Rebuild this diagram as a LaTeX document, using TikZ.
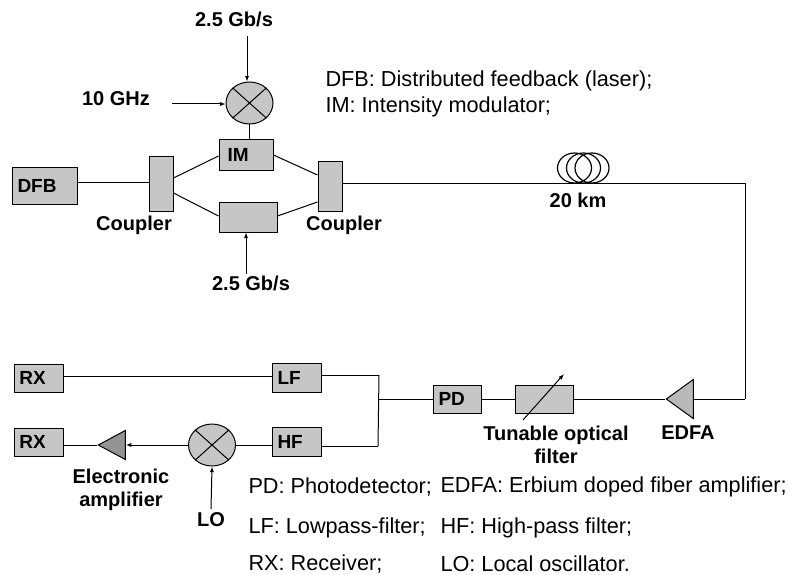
\documentclass[tikz,border=0pt]{standalone}
\usepackage{fontspec}
\setmainfont{Liberation Sans}
\usetikzlibrary{arrows.meta,positioning,calc,shapes.geometric}

\begin{document}
\begin{tikzpicture}[
  x=1pt, y=-1pt,
  font=\fontsize{21.7}{26}\selectfont,
  line width=1pt,
  >={Latex[length=2mm,width=1.5mm]},
  comp/.style={draw, fill=gray!45, inner xsep=5.5pt, inner ysep=0pt, align=left, font=\fontsize{19}{20}\selectfont\bfseries},
  mixer/.style={draw, shape=ellipse, fill=gray!45, inner sep=0pt, minimum width=47pt, minimum height=42pt},
  amp/.style={draw, shape=isosceles triangle, isosceles triangle stretches, shape border rotate=180, inner sep=0pt, anchor=apex},
  ring/.style={draw, shape=ellipse, inner sep=0pt, line width=1.2pt, minimum width=34pt, minimum height=30pt},
  tag/.style={font=\fontsize{20}{23}\selectfont\bfseries, align=center},
  note/.style={anchor=west, inner sep=0pt}
]
\useasboundingbox (0,0) rectangle (789,575);

% ----- Fixed coordinates for the long fibre run
\coordinate (cornerT) at (745,183);
\coordinate (cornerB) at (745,399);
\coordinate (junT) at (379,375);
\coordinate (junB) at (378,446);
\coordinate (junM) at (379,399);

% ----- Transmitter
\node[comp, text width=54pt, minimum height=37pt] at (44.5,185.5) (dfb) {DFB};
\node[comp, text width=13pt, minimum height=55pt] at (161,183.5) (cplA) {};
\node[comp, text width=43pt, minimum height=31pt] at (246,154.5) (im) {\hspace*{3pt}IM};
\node[comp, text width=47pt, minimum height=30pt] at (248,217) (arm) {};
\node[comp, text width=13pt, minimum height=50pt] at (330,186) (cplB) {};
\node[mixer] at (249.5,103) (mixT) {};

\node[tag] at (234,19) (rateT) {2.5 Gb/s};
\node[tag] at (116,99) (clock) {10 GHz};
\node[tag] at (251,283) (rateB) {2.5 Gb/s};
\node[tag] at (134,225) {Coupler};
\node[tag] at (344,225) {Coupler};

\draw (dfb.6) -- (dfb.6 -| cplA.west);
\draw (cplA.east |- 0,178) -- (im.west |- 0,156);
\draw (cplA.east |- 0,193) -- (arm.west |- 0,216);
\draw (im.east |- 0,155) -- (cplB.west |- 0,175);
\draw (arm.east |- 0,216) -- (cplB.west |- 0,202);
\draw (mixT.south) -- (mixT.south |- im.north);
\draw[->] (247,36) -- (mixT.north -| 247,0);
\draw[->] (172,104) -- (mixT.west |- 0,104);
\draw[->] (246,274) -- (arm.south -| 246,0);

% ----- Fibre coil
\node[ring] at (574.5,168) (coilL) {};
\node[ring] at (583.5,168) (coilM) {};
\node[ring] at (592,168) (coilR) {};
\node[tag] at (578,200) {20 km};

\draw (cplB.east |- cornerT) -- (cornerT) -- (cornerB);

% ----- Receiver front end
\node[amp, fill=gray!55, minimum width=39pt, minimum height=27pt] at (665,399) (edfa) {};
\node[comp, text width=47pt, minimum height=28pt] at (544,399) (filt) {};
\node[comp, text width=37pt, minimum height=28pt] at (457,399) (pd) {PD};
\node[tag] at (688,433) {EDFA};
\node[tag] at (556,444.5) {Tunable optical\\filter};

\draw (cornerB) -- (edfa.lower side);
\draw (edfa.apex) -- (filt.east);
\draw (filt.west) -- (pd.east);
\draw (pd.west) -- (junM);
\draw[->] (523,420) -- (564,374);

% ----- Two branches
\node[comp, text width=38pt, minimum height=29pt] at (296.5,377.5) (lf) {LF};
\node[comp, text width=38pt, minimum height=29pt] at (296.5,441.5) (hf) {HF};
\node[comp, text width=38pt, minimum height=28pt] at (38.5,378) (rxA) {RX};
\node[comp, text width=38pt, minimum height=28pt] at (38.5,442) (rxB) {RX};
\node[mixer] at (212,445) (mixB) {};
\node[amp, fill=gray!85, minimum width=29pt, minimum height=27pt] at (97,445) (eamp) {};
\node[tag] at (121,489.5) {Electronic\\amplifier};
\node[tag] at (211,520) (lo) {LO};

\draw (junT) -- (junB);
\draw (lf.east |- junT) -- (junT);
\draw (hf.east |- junB) -- (junB);
\draw (rxA.east |- 0,376) -- (lf.west |- 0,376);
\draw (hf.west |- mixB.east) -- (mixB.east);
\draw[->] (mixB.west) -- (eamp.lower side);
\draw (eamp.apex) -- (eamp.apex -| rxB.east);
\draw[->] (lo.north) -- (mixB.south);

\foreach \m in {mixT,mixB} {
  \draw (\m.north west) -- (\m.south east);
  \draw (\m.south west) -- (\m.north east);
}

% ----- Abbreviations
\node[note] at (325,81) {DFB: Distributed feedback (laser);};
\node[note] at (325,107) {IM: Intensity modulator;};
\node[note] at (248,487) {PD: Photodetector;};
\node[note] at (440,487) {EDFA: Erbium doped fiber amplifier;};
\node[note] at (248,527.5) {LF: Lowpass-filter;};
\node[note] at (440,527.5) {HF: High-pass filter;};
\node[note] at (248,564) {RX: Receiver;};
\node[note] at (440,564) {LO: Local oscillator.};

\end{tikzpicture}
\end{document}
